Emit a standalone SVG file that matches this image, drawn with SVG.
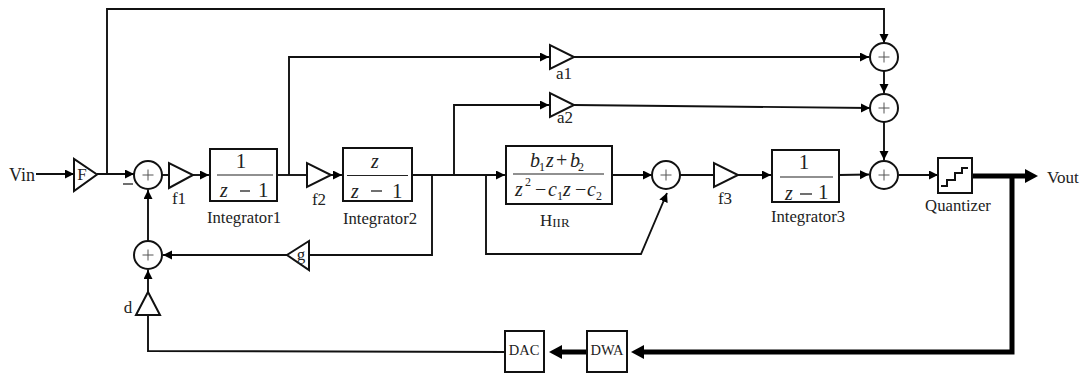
<svg xmlns="http://www.w3.org/2000/svg" width="1083" height="374" viewBox="0 0 1083 374">
<style>
text{font-family:"Liberation Serif","Times New Roman",serif;fill:#222;font-size:17px}
.lb{font-size:16.700px}
.m{text-anchor:middle}
.i{font-style:italic}
.n{font-size:21px}
.z{font-size:20px;font-style:italic}
.u{font-size:12px}
.b{font-size:14.500px}
.c{fill:none;stroke:#111;stroke-width:1.9}
.a{marker-end:url(#ah)}
.t{fill:none;stroke:#000;stroke-width:5}
.h{marker-end:url(#ahb)}
.s{fill:#fff;stroke:#111;stroke-width:2}
.bar{stroke:#222;stroke-width:1.2}
.mn{stroke:#222;stroke-width:1.300}
.p{stroke:#555;stroke-width:1}
</style>
<defs>
<marker id="ah" markerUnits="userSpaceOnUse" markerWidth="10" markerHeight="10" refX="9" refY="4.500" orient="auto"><path d="M0 0L9 4.500L0 9z" fill="#000"/></marker>
<marker id="ahb" markerUnits="userSpaceOnUse" markerWidth="15" markerHeight="15" refX="3" refY="7" orient="auto"><path d="M0 0L13 7L0 14z" fill="#000"/></marker>
</defs>
<g id="connectors">
<path class="c a" d="M36 174H74"/>
<path class="c a" d="M97 174H134"/>
<path class="c a" d="M107 174V9H884V43"/>
<path class="c" d="M162 175H169"/>
<path class="c a" d="M192 175H209"/>
<path class="c" d="M276 175H306"/>
<path class="c a" d="M289 175V57H549"/>
<path class="c a" d="M574 57H869"/>
<path class="c a" d="M331 175H342"/>
<path class="c" d="M412 175H500"/>
<path class="c a" d="M454 175V105H549"/>
<path class="c a" d="M574 105L870 108"/>
<path class="c" d="M432 175V255H309"/>
<path class="c a" d="M287 255H163"/>
<path class="c a" d="M486 175H505"/>
<path class="c a" d="M486 175V254H641L667 193"/>
<path class="c a" d="M612 175H652"/>
<path class="c" d="M680 175H713"/>
<path class="c a" d="M738 175H771"/>
<path class="c a" d="M839 175L869 174.500"/>
<path class="c a" d="M884 71V93"/>
<path class="c a" d="M884 122V160"/>
<path class="c a" d="M899 175H938"/>
<path class="c a" d="M148 241V190"/>
<path class="c a" d="M148 293V270"/>
<path class="c" d="M148 315V351L505 352"/>
<path class="t h" d="M972 176H1028"/>
<path class="t h" d="M1012 176V352H641"/>
<path class="t h" d="M587 352H559"/>
</g>
<g id="Vin"><text x="9" y="181" style="font-size:18px">Vin</text></g>
<g id="Vout"><text x="1047" y="183">Vout</text></g>
<g id="F"><path class="s" d="M74 159V191L97 174.500z"/><text class="m" x="82" y="180">F</text></g>
<g id="minus"><path class="mn" d="M123 184H133"/></g>
<g id="sum1"><circle class="s" cx="148" cy="175" r="14"/><path class="p" d="M142.500 175H153.500M148 169.500V180.500"/></g>
<g id="f1"><path class="s" d="M169 163V188L193 175z"/><text class="m" x="179" y="204">f1</text></g>
<g id="Integrator1"><rect class="s" x="210" y="149" width="67" height="52"/><path class="bar" d="M217 175H273"/><text class="m n" x="241" y="168">1</text><text x="220" y="197" class="z">z</text><path class="mn" d="M240 191H250"/><text x="258" y="197" class="n">1</text><text class="m lb" x="244" y="223">Integrator1</text></g>
<g id="f2"><path class="s" d="M307 163V187L331 175z"/><text class="m" x="319" y="205">f2</text></g>
<g id="Integrator2"><rect class="s" x="343" y="148" width="69" height="53"/><path class="bar" d="M347 175.500H408"/><text class="m z" x="375" y="168">z</text><text x="351" y="198" class="z">z</text><path class="mn" d="M371 191H382"/><text x="392" y="198" class="n">1</text><text class="m lb" x="380" y="224">Integrator2</text></g>
<g id="a1"><path class="s" d="M550 45V69L574 57z"/><text class="m" x="564" y="79">a1</text></g>
<g id="a2"><path class="s" d="M550 93V117L574 105z"/><text class="m" x="565" y="123">a2</text></g>
<g id="HIIR"><rect class="s" x="506" y="146" width="106" height="58"/><path class="bar" d="M513 174H604"/><text x="530" y="167" class="z">b</text><text x="539" y="171" class="u">1</text><text x="546" y="167" class="z">z</text><text x="556" y="167" style="font-size:20px">+</text><text x="570" y="167" class="z">b</text><text x="578" y="171" class="u">2</text><text x="515" y="196" class="z">z</text><text x="525" y="186" class="u">2</text><text x="535" y="196" style="font-size:20px">−</text><text x="548" y="196" class="z">c</text><text x="557" y="200" class="u">1</text><text x="563" y="196" class="z">z</text><text x="575" y="196" style="font-size:20px">−</text><text x="587" y="196" class="z">c</text><text x="596" y="200" class="u">2</text><text x="540" y="226">H<tspan style="font-size:13px" dy="1">IIR</tspan></text></g>
<g id="sum2"><circle class="s" cx="666" cy="175" r="14"/><path class="p" d="M660.500 175H671.500M666 169.500V180.500"/></g>
<g id="f3"><path class="s" d="M714 163V187L738 175z"/><text class="m" x="725" y="204">f3</text></g>
<g id="Integrator3"><rect class="s" x="772" y="150" width="67" height="52"/><path class="bar" d="M780 177H833"/><text class="m n" x="804" y="169">1</text><text x="785" y="200" class="z">z</text><path class="mn" d="M800 194H812"/><text x="818" y="199" class="n">1</text><text class="m lb" x="808" y="222">Integrator3</text></g>
<g id="sum3"><circle class="s" cx="884" cy="57" r="14"/><path class="p" d="M878.500 57H889.500M884 51.500V62.500"/></g>
<g id="sum4"><circle class="s" cx="884" cy="108" r="14"/><path class="p" d="M878.500 108H889.500M884 102.500V113.500"/></g>
<g id="sum5"><circle class="s" cx="884" cy="175" r="14"/><path class="p" d="M878.500 175H889.500M884 169.500V180.500"/></g>
<g id="Quantizer"><rect class="s" x="938" y="158" width="34" height="35"/><path d="M941 186H947V180H955V173H962V168H968" fill="none" stroke="#111" stroke-width="2"/><text class="m lb" x="958" y="211">Quantizer</text></g>
<g id="g"><path class="s" d="M309 241V270L287 255z"/><text class="m" x="301" y="260">g</text></g>
<g id="sum6"><circle class="s" cx="148" cy="255" r="14"/><path class="p" d="M142.500 255H153.500M148 249.500V260.500"/></g>
<g id="d"><path class="s" d="M136 315H160L148 292z"/><text class="m" x="128" y="313">d</text></g>
<g id="DAC"><rect class="s" x="505" y="331" width="39" height="41"/><text class="m b" x="524" y="355">DAC</text></g>
<g id="DWA"><rect class="s" x="587" y="331" width="40" height="41"/><text class="m b" x="607" y="355">DWA</text></g>
</svg>
